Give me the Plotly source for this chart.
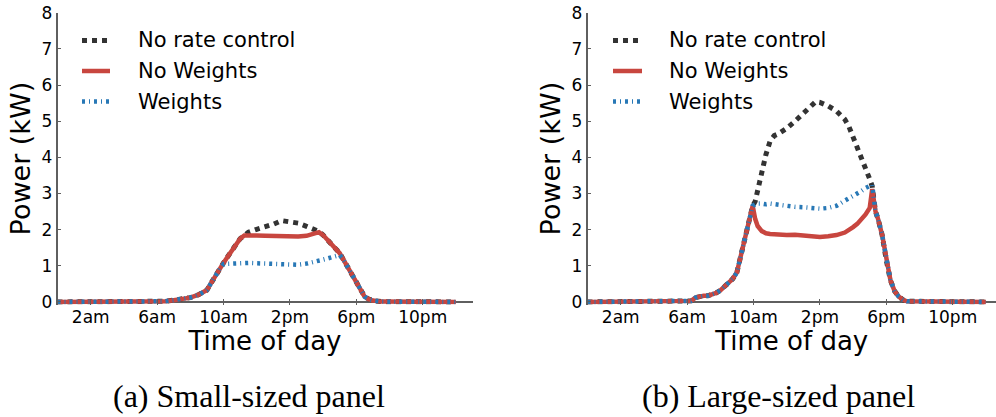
import plotly.graph_objects as go

# ---------------- data (hours of day, power in kW) ----------------
hours_small = [0, 6, 6.5, 7, 7.5, 8, 8.5, 9, 9.25, 9.5,
               9.75, 10, 10.25, 10.5, 10.75, 11, 11.25, 11.5, 12, 12.5,
               13, 13.5, 14, 14.5, 15, 15.5, 15.75, 16, 16.25, 16.5,
               16.75, 17, 17.25, 17.5, 17.75, 18, 18.25, 18.5, 18.75, 19,
               19.5, 24]
no_weights_small = [0, 0, 0.02, 0.05, 0.08, 0.12, 0.2, 0.33, 0.52, 0.72,
                    0.9, 1.08, 1.25, 1.42, 1.6, 1.75, 1.84, 1.85, 1.84, 1.83,
                    1.82, 1.8, 1.79, 1.81, 1.83, 1.9, 1.93, 1.85, 1.72, 1.58,
                    1.47, 1.35, 1.15, 0.95, 0.75, 0.5, 0.3, 0.15, 0.08, 0.04,
                    0.01, 0]
weights_small = [0, 0, 0.02, 0.05, 0.08, 0.12, 0.2, 0.33, 0.52, 0.72,
                 0.9, 1.05, 1.06, 1.07, 1.07, 1.07, 1.08, 1.08, 1.07, 1.06,
                 1.05, 1.03, 1.02, 1.03, 1.06, 1.1, 1.13, 1.17, 1.2, 1.24,
                 1.28, 1.3, 1.15, 0.95, 0.75, 0.5, 0.3, 0.15, 0.08, 0.04,
                 0.01, 0]
no_rate_small = [0, 0, 0.02, 0.05, 0.08, 0.12, 0.2, 0.33, 0.52, 0.72,
                 0.9, 1.08, 1.25, 1.42, 1.6, 1.75, 1.84, 1.93, 2.01, 2.07,
                 2.15, 2.25, 2.23, 2.18, 2.09, 1.99, 1.95, 1.85, 1.72, 1.58,
                 1.47, 1.35, 1.15, 0.95, 0.75, 0.5, 0.3, 0.15, 0.08, 0.04,
                 0.01, 0]

hours_large = [0, 6, 6.25, 6.5, 6.75, 7, 7.25, 7.5, 7.75, 8,
               8.25, 8.5, 8.75, 9, 9.25, 9.5, 9.75, 9.95, 10.1, 10.25,
               10.5, 10.75, 11, 11.25, 11.5, 12, 12.5, 13, 13.5, 13.75,
               14, 14.5, 15, 15.5, 15.75, 16, 16.25, 16.5, 16.75, 17,
               17.15, 17.35, 17.5, 17.75, 18, 18.25, 18.5, 18.75, 19, 19.25,
               24]
no_weights_large = [0, 0, 0.03, 0.12, 0.16, 0.17, 0.17, 0.2, 0.25, 0.32,
                    0.42, 0.52, 0.64, 0.82, 1.3, 1.8, 2.25, 2.66, 2.3, 2.1,
                    1.96, 1.9, 1.88, 1.87, 1.87, 1.85, 1.86, 1.84, 1.82, 1.81,
                    1.8, 1.82, 1.85, 1.92, 1.98, 2.07, 2.16, 2.27, 2.42, 2.6,
                    3.12, 2.5, 2.3, 1.85, 1.15, 0.6, 0.3, 0.15, 0.06, 0.02,
                    0]
weights_large = [0, 0, 0.03, 0.12, 0.16, 0.17, 0.17, 0.2, 0.25, 0.32,
                 0.42, 0.52, 0.64, 0.82, 1.3, 1.8, 2.25, 2.66, 2.7, 2.72,
                 2.72, 2.7, 2.72, 2.7, 2.68, 2.67, 2.63, 2.62, 2.6, 2.58,
                 2.58, 2.6, 2.66, 2.8, 2.86, 2.93, 3.0, 3.07, 3.15, 3.22,
                 3.24, 2.5, 2.3, 1.85, 1.15, 0.6, 0.3, 0.15, 0.06, 0.02,
                 0]
no_rate_large = [0, 0, 0.03, 0.12, 0.16, 0.17, 0.17, 0.2, 0.25, 0.32,
                 0.42, 0.52, 0.64, 0.82, 1.3, 1.8, 2.25, 2.66, 2.78, 3.1,
                 3.65, 4.08, 4.45, 4.6, 4.65, 4.8, 5.0, 5.22, 5.42, 5.54,
                 5.52, 5.42, 5.28, 5.05, 4.85, 4.57, 4.3, 4.04, 3.75, 3.4,
                 3.2, 2.5, 2.3, 1.85, 1.15, 0.6, 0.3, 0.15, 0.06, 0.02,
                 0]

tick_hours = [2, 6, 10, 14, 18, 22]
tick_labels = ["2am", "6am", "10am", "2pm", "6pm", "10pm"]
y_ticks = [0, 1, 2, 3, 4, 5, 6, 7, 8]

series_names = ["No rate control", "No Weights", "Weights"]
captions = ["(a) Small-sized panel", "(b) Large-sized panel"]

# ---------------- styling ----------------
W, H = 996, 417
FONT = "DejaVu Sans"
AXIS_GREY = "#5f5f5f"
styles = {
    "No rate control": dict(color="#333333", width=5, dash="5px,5px"),
    "No Weights": dict(color="#c8463f", width=4.5, dash="solid"),
    "Weights": dict(color="#2878b6", width=4.5, dash="3px,4px,1px,4px"),
}


def px_x(p):
    return p / W


def px_y(p):
    return (H - p) / H


fig = go.Figure()

panels = [
    ("x", "y", hours_small, [no_rate_small, no_weights_small, weights_small]),
    ("x2", "y2", hours_large, [no_rate_large, no_weights_large, weights_large]),
]
for xa, ya, hrs, vals in panels:
    for name, v in zip(series_names, vals):
        fig.add_trace(go.Scatter(
            x=hrs, y=v, mode="lines", name=name, showlegend=False,
            line=dict(**styles[name], shape="linear"),
            xaxis=xa, yaxis=ya, hoverinfo="skip",
        ))

# plot-area geometry
y_bottom, y_top = px_y(304.5), px_y(12.7)
x_left_dom = [px_x(57.5), px_x(472.5)]
x_right_dom = [px_x(587.5), 1.0]

common_x = dict(
    tickmode="array", tickvals=tick_hours, ticktext=tick_labels,
    ticks="inside", ticklen=6, tickwidth=1, tickcolor=AXIS_GREY,
    showline=False, showgrid=False, zeroline=False, automargin=False,
    tickfont=dict(family=FONT, size=17, color="#000"),
    title=dict(text="Time of day", font=dict(family=FONT, size=26, color="#000"),
               standoff=4),
)
common_y = dict(
    range=[-0.07, 8], tickmode="array", tickvals=y_ticks,
    ticks="inside", ticklen=4, tickwidth=1, tickcolor=AXIS_GREY,
    showline=True, linecolor=AXIS_GREY, linewidth=1.5, automargin=False,
    showgrid=False, zeroline=True, zerolinecolor=AXIS_GREY, zerolinewidth=1.5,
    tickfont=dict(family=FONT, size=17, color="#000"),
    ticklabelstandoff=0,
    title=dict(text="Power (kW)", font=dict(family=FONT, size=27, color="#000"),
               standoff=3),
)

fig.update_layout(
    width=W, height=H, autosize=False,
    margin=dict(l=0, r=0, t=0, b=0, pad=0, autoexpand=False),
    paper_bgcolor="white", plot_bgcolor="white",
    showlegend=False,
    xaxis=dict(domain=x_left_dom, range=[0, 25], anchor="y", **common_x),
    yaxis=dict(domain=[y_bottom, y_top], anchor="x", **common_y),
    xaxis2=dict(domain=x_right_dom, range=[0, (W - 587.5) / 16.6], anchor="y2", **common_x),
    yaxis2=dict(domain=[y_bottom, y_top], anchor="x2", **common_y),
)

# legend keys drawn per panel
legend_rows = [40.5, 71, 101.5]
legend_cols = [(82, 110, 136), (613, 642, 667)]
shapes, annotations = [], []
for x0, x1, xt in legend_cols:
    for name, row in zip(series_names, legend_rows):
        st = styles[name]
        shapes.append(dict(
            type="line", xref="paper", yref="paper",
            x0=px_x(x0), x1=px_x(x1), y0=px_y(row), y1=px_y(row),
            line=dict(color=st["color"], width=st["width"], dash=st["dash"]),
        ))
        annotations.append(dict(
            text=name, xref="paper", yref="paper", x=px_x(xt), y=px_y(row),
            xanchor="left", yanchor="middle", showarrow=False,
            font=dict(family=FONT, size=21, color="#000"),
        ))

for cap, cx in zip(captions, [248.5, 778]):
    annotations.append(dict(
        text=cap, xref="paper", yref="paper", x=px_x(cx), y=px_y(396),
        xanchor="center", yanchor="middle", showarrow=False,
        font=dict(family="Liberation Serif", size=32, color="#000"),
    ))

fig.update_layout(shapes=shapes, annotations=annotations)
fig.write_html("out.html", config={"responsive": False})
